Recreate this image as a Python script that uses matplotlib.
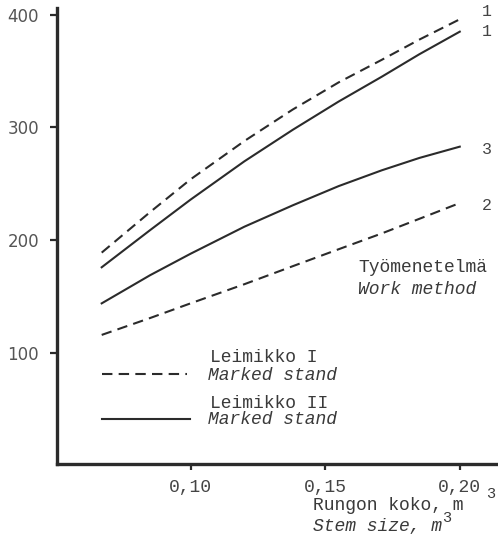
import matplotlib.pyplot as plt

# Stem size (m3) and output per work method, two marked stands
stem_size = [0.067, 0.085, 0.10, 0.12, 0.138, 0.155, 0.171, 0.185, 0.20]
stand1_method1 = [189, 225, 254, 288, 316, 340, 360, 378, 396]   # Leimikko I, dashed
stand1_method2 = [116, 131, 144, 161, 177, 192, 206, 219, 233]
stand2_method1 = [176, 209, 236, 270, 298, 323, 345, 365, 385]   # Leimikko II, solid
stand2_method3 = [144, 169, 188, 212, 231, 248, 262, 273, 283]

xticks = [0.10, 0.15, 0.20]
xtick_labels = ['0,10', '0,15', '0,20']
yticks = [100, 200, 300, 400]

W, H = 498, 542
ink = '#2b2b2b'
mono = 'Liberation Mono'

fig = plt.figure(figsize=(W / 100, H / 100), dpi=100)
ax = fig.add_axes([57 / W, 1 - 464 / H, (W - 57) / W, (464 - 8) / H])

dash = (0, (5, 3))
lines = [
    (stand1_method1, dash, '1', 8),
    (stand2_method1, '-', '1', 0),
    (stand2_method3, '-', '3', -3),
    (stand1_method2, dash, '2', -2),
]
for vals, ls, lab, dy in lines:
    ax.plot(stem_size, vals, color=ink, lw=1.5, linestyle=ls)
    ax.annotate(lab, xy=(stem_size[-1], vals[-1]), xytext=(27, dy),
                textcoords='offset pixels', ha='center', va='center',
                fontsize=12, family=mono, color='#444444')

ax.set_xlim(0.0504, 0.2142)
ax.set_ylim(1.5, 406)
ax.set_xticks(xticks)
ax.set_xticklabels(xtick_labels, family=mono, fontsize=13, color='#444444')
ax.set_yticks(yticks)
ax.set_yticklabels([str(v) for v in yticks], family='DejaVu Sans',
                   fontsize=12, color='#555555')
ax.tick_params(axis='y', length=5, width=1.6, pad=8, color=ink)
ax.tick_params(axis='x', length=4, width=1.6, pad=7, color=ink)

for side in ['top', 'right']:
    ax.spines[side].set_visible(False)
for side in ['left', 'bottom']:
    ax.spines[side].set_linewidth(2.4)
    ax.spines[side].set_color(ink)


def px(x, y):
    return x / W, 1 - y / H


def put(x, y, s, italic=False, size=13):
    fig.text(*px(x, y), s, family=mono, fontsize=size, color='#3a3a3a',
             style='italic' if italic else 'normal', ha='left', va='center')


# legend keys drawn by hand
k1 = plt.Line2D([102 / W, 187 / W], [1 - 374 / H] * 2, color=ink, lw=1.5,
                linestyle=dash, transform=fig.transFigure)
k2 = plt.Line2D([102 / W, 190 / W], [1 - 419 / H] * 2, color=ink, lw=1.5,
                transform=fig.transFigure)
fig.add_artist(k1)
fig.add_artist(k2)

put(210, 357, 'Leimikko I')
put(208, 375, 'Marked stand', italic=True)
put(210, 404, 'Leimikko II')
put(208, 420, 'Marked stand', italic=True)

put(358, 268, 'Työmenetelmä')
put(358, 289, 'Work method', italic=True)

put(313, 506, 'Rungon koko, m')
put(486, 494, '3', size=11)
put(313, 527, 'Stem size, m', italic=True)
put(442, 518, '3', size=11)

fig.savefig('out.png', dpi=100)
